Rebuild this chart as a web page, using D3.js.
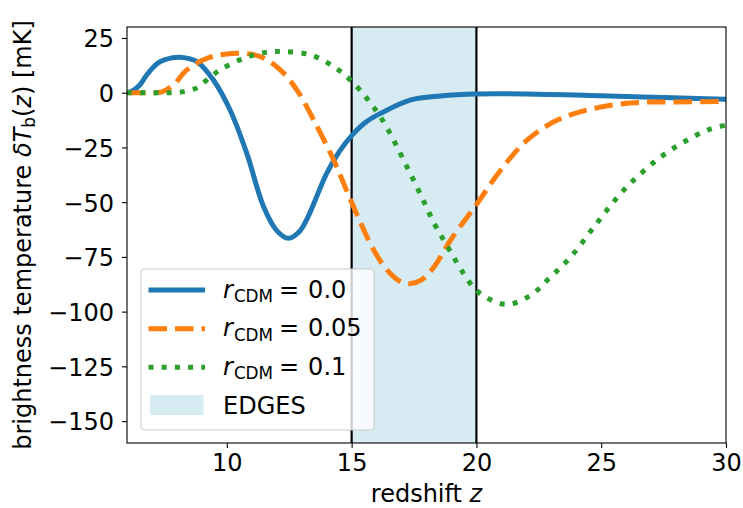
<!DOCTYPE html>
<html>
<head>
<meta charset="utf-8">
<script src="https://cdn.jsdelivr.net/npm/d3@7"></script>
<style>
  html, body { margin: 0; padding: 0; background: #fff; }
  svg { display: block; }
  text { font-family: "DejaVu Sans", sans-serif; fill: #000; }
</style>
</head>
<body>
<svg id="chart" width="743" height="508"></svg>
<script>
// ---------------- data ----------------
const zBlue = [6, 6.25, 6.5, 6.75, 7.0, 7.25, 7.5, 7.8, 8.13, 8.8, 9.46, 10.13, 10.8, 11.47, 12.0, 12.47, 12.9, 13.2, 14.0, 14.5, 15.02, 15.6, 16.17, 17.37, 18.56, 20.0, 22.0, 25.0, 27.5, 30.0];
const tBlue = [0, 1.0, 3.4, 7.4, 11.0, 13.6, 15.0, 15.9, 16.2, 14.2, 5.8, -7.9, -27.7, -52, -63, -66.5, -63.5, -58, -36.9, -27, -19.4, -13.2, -9.4, -3.3, -1.5, -0.6, -0.6, -1.4, -2.2, -3.0];

const zOrange = [6, 6.5, 7.0, 7.4, 7.86, 8.4, 9.2, 10.4, 11.34, 12.14, 12.81, 13.48, 14.28, 15.02, 15.89, 16.5, 17.0, 17.36, 17.8, 18.3, 18.96, 20.03, 20.97, 22.04, 23.24, 24.71, 26.32, 28.0, 30.0];
const tOrange = [0, 0, 0, 0.4, 3.5, 10.4, 15.7, 18.0, 16.5, 10.4, 1.2, -12.5, -30.8, -50.6, -72, -82, -86.5, -87.2, -85.5, -79.6, -67.4, -50.6, -35.4, -21.6, -12.5, -7.2, -4.6, -4.2, -4.0];

const zGreen = [6, 6.8, 7.5, 8.0, 8.3, 8.8, 9.2, 9.73, 10.67, 11.6, 12.27, 13.34, 14.28, 15.08, 16.15, 17.22, 17.9, 18.3, 18.7, 19.76, 20.16, 21.17, 22.17, 22.97, 23.78, 24.71, 25.78, 26.59, 27.39, 28.33, 29.26, 30.0];
const tGreen = [0, 0, 0, 0.1, 0.6, 2.2, 5.8, 10.4, 15.7, 18.5, 18.8, 17.3, 11.9, 4.3, -11, -33.9, -49.9, -59.5, -67.5, -87.2, -91.8, -96.7, -92.6, -84.2, -75, -61.3, -46, -36.9, -29.3, -22.4, -17.1, -14.8];

const seriesNames = ["0.0", "0.05", "0.1"];
const edgesBand = [15, 20];
const xTicks = [10, 15, 20, 25, 30];
const yTicks = [25, 0, -25, -50, -75, -100, -125, -150];
const xDomain = [6, 30];
const yDomain = [-160, 30];

// ---------------- layout ----------------
const M = { left: 127, right: 726, top: 27, bottom: 443 };
const FS = 24;
const svg = d3.select("#chart");

const x = d3.scaleLinear().domain(xDomain).range([M.left, M.right]);
const y = d3.scaleLinear().domain(yDomain).range([M.bottom, M.top]);

svg.append("defs").append("clipPath").attr("id", "clip")
  .append("rect").attr("x", M.left).attr("y", M.top)
  .attr("width", M.right - M.left).attr("height", M.bottom - M.top);

const plot = svg.append("g").attr("clip-path", "url(#clip)");

// EDGES band
plot.append("rect")
  .attr("x", x(edgesBand[0])).attr("y", M.top)
  .attr("width", x(edgesBand[1]) - x(edgesBand[0]))
  .attr("height", M.bottom - M.top)
  .attr("fill", "rgb(173,216,230)").attr("fill-opacity", 0.5);

// vertical lines
edgesBand.forEach(v => {
  plot.append("line")
    .attr("x1", x(v)).attr("x2", x(v)).attr("y1", M.top).attr("y2", M.bottom)
    .attr("stroke", "#000").attr("stroke-width", 2.2);
});

const LW = 5;
const styles = [
  { color: "#1f77b4", dash: null },
  { color: "#ff7f0e", dash: "18.5,8" },
  { color: "#2ca02c", dash: "5,8.2" }
];
const series = [
  d3.zip(zBlue, tBlue),
  d3.zip(zOrange, tOrange),
  d3.zip(zGreen, tGreen)
];

const line = d3.line().x(d => x(d[0])).y(d => y(d[1])).curve(d3.curveCatmullRom.alpha(0.5));

series.forEach((s, i) => {
  plot.append("path")
    .attr("d", line(s))
    .attr("fill", "none")
    .attr("stroke", styles[i].color)
    .attr("stroke-width", LW)
    .attr("stroke-dasharray", styles[i].dash)
    .attr("stroke-linecap", "butt")
    .attr("stroke-linejoin", "round");
});

// axes
const xAxis = d3.axisBottom(x).tickValues(xTicks).tickSize(5).tickPadding(6)
  .tickFormat(d3.format("d"));
const gx = svg.append("g").attr("transform", `translate(0,${M.bottom})`).call(xAxis);
gx.select(".domain").remove();
gx.selectAll("text").attr("font-size", FS).attr("font-family", "DejaVu Sans").attr("fill", "#000");
gx.selectAll("line").attr("stroke", "#000").attr("stroke-width", 1.1);

const yAxis = d3.axisLeft(y).tickValues(yTicks).tickSize(5).tickPadding(8)
  .tickFormat(d => d < 0 ? "\u2212" + Math.abs(d) : String(d));
const gy = svg.append("g").attr("transform", `translate(${M.left},0)`).call(yAxis);
gy.select(".domain").remove();
gy.selectAll("text").attr("font-size", FS).attr("font-family", "DejaVu Sans").attr("fill", "#000")
  .attr("dy", "0.37em");
gy.selectAll("line").attr("stroke", "#000").attr("stroke-width", 1.1);

// frame
svg.append("rect")
  .attr("x", M.left).attr("y", M.top)
  .attr("width", M.right - M.left).attr("height", M.bottom - M.top)
  .attr("fill", "none").attr("stroke", "#000").attr("stroke-width", 1.1);

// axis labels
const xl = svg.append("text")
  .attr("x", (M.left + M.right) / 2).attr("y", 502)
  .attr("text-anchor", "middle").attr("font-size", FS);
xl.append("tspan").text("redshift ");
xl.append("tspan").attr("font-style", "italic").text("z");

const yl = svg.append("text")
  .attr("transform", `translate(31,${(M.top + M.bottom) / 2}) rotate(-90)`)
  .attr("text-anchor", "middle").attr("font-size", FS);
yl.append("tspan").text("brightness temperature ");
yl.append("tspan").attr("font-style", "italic").text("\u03B4T");
yl.append("tspan").attr("font-size", FS * 0.7).attr("dy", 4).text("b");
yl.append("tspan").attr("dy", -4).text("(");
yl.append("tspan").attr("font-style", "italic").text("z");
yl.append("tspan").text(") [mK]");

// legend
const lg = svg.append("g");
lg.append("rect")
  .attr("x", 141).attr("y", 269).attr("width", 233).attr("height", 161)
  .attr("rx", 4).attr("ry", 4)
  .attr("fill", "#fff").attr("fill-opacity", 0.8)
  .attr("stroke", "#ccc").attr("stroke-width", 1.1);

const rowY = [290, 328.7, 367.3];
series.forEach((s, i) => {
  lg.append("line")
    .attr("x1", 148.5).attr("x2", 205).attr("y1", rowY[i]).attr("y2", rowY[i])
    .attr("stroke", styles[i].color).attr("stroke-width", LW)
    .attr("stroke-dasharray", styles[i].dash).attr("stroke-linecap", "butt");
  const t = lg.append("text").attr("x", 223).attr("y", rowY[i] + 7.5).attr("font-size", FS);
  t.append("tspan").attr("font-style", "italic").text("r");
  t.append("tspan").attr("font-size", FS * 0.7).attr("dy", 4.5).attr("dx", 1).text("CDM");
  t.append("tspan").attr("dy", -4.5).attr("dx", 6).text("=");
  t.append("tspan").attr("dx", 9).text(seriesNames[i]);
});
lg.append("rect")
  .attr("x", 150).attr("y", 395).attr("width", 53.5).attr("height", 20)
  .attr("fill", "rgb(173,216,230)").attr("fill-opacity", 0.5);
lg.append("text").attr("x", 223).attr("y", 414).attr("font-size", FS).text("EDGES");
</script>
</body>
</html>
